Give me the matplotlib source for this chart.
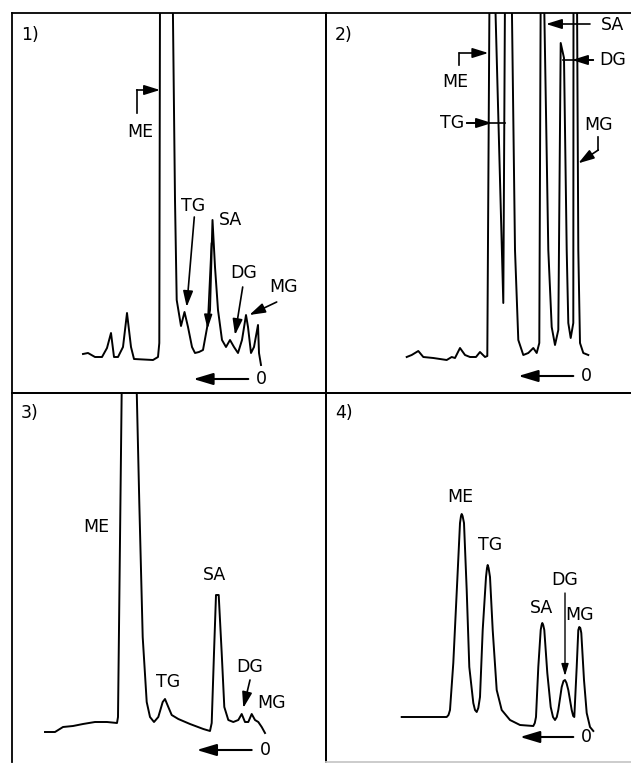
import matplotlib.pyplot as plt

# クロマトグラム 4 本 (横: 保持位置, 縦: 検出器応答, 同じ任意単位)
# 1) 反応初期
p1_t = [71, 76, 83, 90, 95, 99, 102, 106, 111, 115, 119, 122, 141, 146, 147.3, 148,
        160.7, 163, 164.7, 169, 172.5, 176, 180, 183, 187, 191, 195, 198, 200.5, 203,
        206, 210, 214, 218, 222, 226, 230, 234, 236, 239, 242, 246, 247, 249]
p1_s = [39, 40, 36, 36, 45, 60, 36, 36, 46, 80, 46, 34, 33, 36, 50, 400,
        400, 193, 93, 67, 81, 66, 46, 40, 41, 43, 65, 83, 173, 126,
        83, 53, 46, 53, 46, 40, 53, 78, 66, 40, 46, 68, 40, 28]
# 2)
p2_t = [80.7, 85.7, 92.3, 97.3, 107.3, 120.7, 125.7, 129, 134, 139, 144, 150, 154, 159,
        161.3, 163.5, 169, 177.3, 179, 185.7, 189, 192.3, 197.3, 202.3, 207.3, 210.7,
        213.3, 214.7, 218, 222.3, 225.7, 229, 232.3, 234.7, 238, 240.7, 242.3, 244.7,
        247.3, 247.5, 251, 252.3, 254, 257.3, 262.3]
p2_s = [36, 38, 42, 36, 35, 33, 36, 35, 45, 38, 36, 36, 41, 36,
        37, 400, 400, 90, 400, 400, 143, 53, 38, 40, 45, 40,
        50, 400, 400, 143, 66, 48, 63, 350, 335, 143, 70, 55,
        70, 400, 400, 143, 50, 40, 38]
# 3)
p3_t = [33, 43, 51, 61, 71, 83, 95, 105, 106, 109.7, 124.7, 127.3, 130.7, 134.7, 138,
        142, 146.3, 150.7, 153, 156.3, 159.7, 166.3, 178, 191.3, 198, 199.7, 202, 204,
        206.7, 209.7, 212.3, 216.3, 221.3, 226.3, 229.7, 233, 236.3, 239.7, 243, 246.3,
        249.7, 253]
p3_s = [30, 30, 35, 36, 38, 40, 40, 39, 45, 372, 372, 259, 125, 60, 45,
        40, 45, 60, 63, 55, 47, 43, 38, 33, 31, 39, 109, 167,
        167, 109, 55, 42, 40, 42, 48, 40, 40, 48, 42, 40,
        35, 29]
# 4)
p4_t = [75.7, 120.7, 122.5, 124, 127.3, 131.3, 134, 135, 135.7, 136.6, 138, 140.7, 143.3,
        147.3, 149, 150.7, 152.3, 154, 156.7, 160, 161, 161.7, 162.6, 164, 166.7, 170.7,
        175.7, 184, 194, 207.3, 208.8, 210, 212.3, 214.7, 215.6, 216.3, 217.2, 218.3,
        221.3, 224.7, 227, 229, 230.8, 232.3, 235.7, 237.5, 239, 240.5, 242.3, 245.7,
        247.2, 248.3, 250.7, 252.3, 253.3, 254.3, 255.3, 258, 260.7, 264, 267.3]
p4_s = [45, 45, 47, 52, 99, 182, 239, 246, 248, 246, 239, 172, 95,
        59, 52, 50, 54, 65, 132, 185, 194, 197, 194, 185, 132, 72,
        52, 42, 37, 36, 39, 45, 95, 132, 137, 139, 137, 132,
        89, 55, 45, 42, 45, 52, 75, 81, 82, 79, 72, 52,
        46, 45, 95, 132, 135, 134, 129, 82, 49, 35, 31]

panel_names = ["1)", "2)", "3)", "4)"]
peaks = ["ME", "TG", "SA", "DG", "MG"]
origin = "0"

plt.rcParams["font.family"] = ["DejaVu Sans"]
W, H = 631, 763
fig = plt.figure(figsize=(W / 100, H / 100), dpi=100)
FS = 12.5


def panel(x0, y0, w, h, hide=()):
    ax = fig.add_axes([x0 / W, 1 - (y0 + h) / H, w / W, h / H])
    ax.set_xlim(0, w)
    ax.set_ylim(0, h)
    ax.set_xticks([])
    ax.set_yticks([])
    ax.patch.set_alpha(0)
    for k, s in ax.spines.items():
        s.set_linewidth(1.3)
        if k in hide:
            s.set_visible(False)
    return ax


def arrow(ax, tail, head, lw=1.2, hl=0.8, hw=0.25):
    ax.annotate("", xy=head, xytext=tail, annotation_clip=False,
                arrowprops=dict(arrowstyle=f"-|>,head_length={hl},head_width={hw}",
                                color="k", lw=lw, shrinkA=0, shrinkB=0, mutation_scale=12))


def label(ax, x, y, s, ha="center"):
    ax.text(x, y, s, ha=ha, va="center", fontsize=FS)


def start_arrow(ax, x0, x1, y):
    arrow(ax, (x1, y), (x0, y), lw=1.5, hl=1.0, hw=0.3)
    label(ax, x1 + 13.5, y, origin)


ax1 = panel(12, 13, 314, 380)
ax2 = panel(326, 13, 305, 380, hide=("right",))
ax3 = panel(12, 393, 314, 369, hide=("bottom",))
ax4 = panel(326, 393, 305, 369, hide=("right",))
ax4.spines["bottom"].set_color("#c8c8c8")

for ax, t, s in [(ax1, p1_t, p1_s), (ax2, p2_t, p2_s), (ax3, p3_t, p3_s), (ax4, p4_t, p4_s)]:
    ax.plot(t, s, color="k", lw=1.4, solid_joinstyle="round")

for ax, name in zip([ax1, ax2, ax3, ax4], panel_names):
    label(ax, 9, 358 if ax in (ax1, ax2) else 349, name, ha="left")

# 1)
label(ax1, 128, 261, peaks[0])
ax1.plot([124.7, 124.7], [280, 303], color="k", lw=1.2)
arrow(ax1, (124.7, 303), (148, 303))
label(ax1, 180.7, 187, peaks[1])
arrow(ax1, (182.3, 176), (174.7, 86))
label(ax1, 218, 173, peaks[2])
arrow(ax1, (199.5, 150), (195.5, 64), hl=0.7, hw=0.2)
label(ax1, 231.3, 120, peaks[3])
arrow(ax1, (230.7, 106), (223, 58))
label(ax1, 272, 106, peaks[4])
arrow(ax1, (264.7, 91), (237.3, 78))
start_arrow(ax1, 181.3, 236.3, 14)

# 2)
label(ax2, 129, 311, peaks[0])
ax2.plot([133.3, 133.3], [328, 340], color="k", lw=1.2)
arrow(ax2, (133.3, 340), (162.3, 340))
label(ax2, 125.7, 270, peaks[1])
ax2.plot([140.7, 179], [270, 270], color="k", lw=1.2)
arrow(ax2, (140.7, 270), (166, 270))
label(ax2, 286.5, 368, peaks[2])
arrow(ax2, (264, 369), (220, 369))
label(ax2, 286.5, 333, peaks[3])
ax2.plot([267.3, 237.3], [333, 333], color="k", lw=1.2)
arrow(ax2, (267.3, 333), (246, 333))
label(ax2, 272.3, 268, peaks[4])
ax2.plot([272.3, 272.3], [256.3, 243], color="k", lw=1.2)
arrow(ax2, (272.3, 243), (252.3, 229.7))
start_arrow(ax2, 192.3, 247.3, 17)

# 3)
label(ax3, 84.7, 235, peaks[0])
label(ax3, 156.3, 80, peaks[1])
label(ax3, 203, 187, peaks[2])
label(ax3, 238, 95, peaks[3])
arrow(ax3, (238, 82), (231.3, 54))
label(ax3, 259.7, 59, peaks[4])
start_arrow(ax3, 184.7, 239.7, 12)

# 4)
label(ax4, 134, 265, peaks[0])
label(ax4, 164, 217, peaks[1])
label(ax4, 215.7, 154, peaks[2])
label(ax4, 239, 182, peaks[3])
arrow(ax4, (239, 169), (239, 86), lw=1.0, hl=0.6, hw=0.18)
label(ax4, 254, 147, peaks[4])
start_arrow(ax4, 194, 247.3, 25)

fig.savefig("out.png", dpi=100, facecolor="white")
